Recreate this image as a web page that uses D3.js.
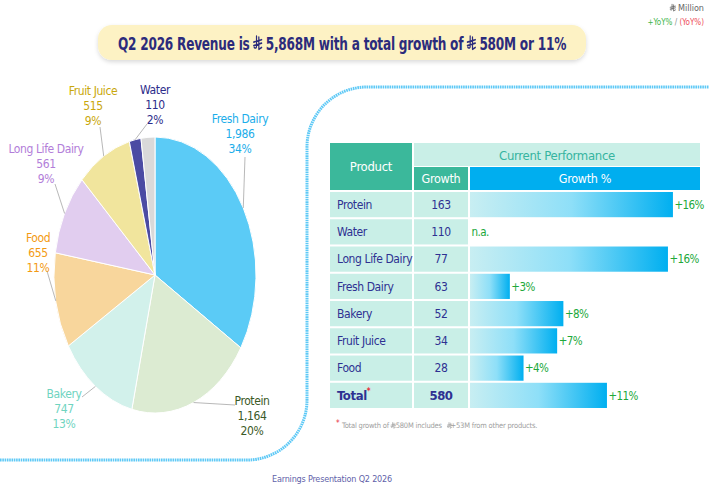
<!DOCTYPE html>
<html lang="en">
<head>
<meta charset="UTF-8">
<title>Q2 2026 Revenue</title>
<style>
  body { margin: 0; background: #fff; }
  svg { display: block; font-family: "DejaVu Sans Condensed", "Roboto", sans-serif; }
</style>
</head>
<body>
<script src="https://cdn.jsdelivr.net/npm/d3@7/dist/d3.min.js"></script>
<script>
// ---- data ----
var SAR = "\u20C1";
var titleText = "Q2 2026 Revenue is " + SAR + " 5,868M with a total growth of " + SAR + " 580M or 11%";

var pieProducts = ["Fresh Dairy", "Protein", "Bakery", "Food", "Long Life Dairy", "Fruit Juice", "Water", "Other"];
var pieRevenue = [1986, 1164, 747, 655, 561, 515, 110, 130];
var pieShareLabels = ["34%", "20%", "13%", "11%", "9%", "9%", "2%", ""];

var tableProducts = ["Protein", "Water", "Long Life Dairy", "Fresh Dairy", "Bakery", "Fruit Juice", "Food", "Total"];
var tableGrowth = [163, 110, 77, 63, 52, 34, 28, 580];
var tableGrowthPct = [16.3, null, 15.9, 3.2, 7.5, 7.0, 4.3, 11.0];
var tableGrowthLabels = ["+16%", "n.a.", "+16%", "+3%", "+8%", "+7%", "+4%", "+11%"];

// ---- styles / layout ----
var sliceColors = ["#5bcbf6", "#dcebd2", "#d2f1eb", "#f8d69c", "#e1cdef", "#f1e59d", "#4b4ba3", "#d9d9d9"];
var labelColors = ["#1badea", "#3b5a27", "#6fd4bf", "#f39a12", "#b27dd9", "#c9a70c", "#2c2c8a", "#999"];
// label text centre (x, first line y) and leader start
var labelLayout = [
  { x: 240, y: 118, lx: 245, ly: 157 },
  { x: 252, y: 400, lx: 235, ly: 405 },
  { x: 64,  y: 393, lx: 82,  ly: 397 },
  { x: 38,  y: 237, lx: 47,  ly: 271 },
  { x: 46,  y: 148, lx: 55,  ly: 184 },
  { x: 93,  y: 90,  lx: 100, ly: 127 },
  { x: 155, y: 89,  lx: 147, ly: 124 },
  null
];

var W = 709, H = 501;
var svg = d3.select("body").append("svg").attr("width", W).attr("height", H);
var defs = svg.append("defs");

var grad = defs.append("linearGradient").attr("id", "barGrad");
grad.append("stop").attr("offset", "0%").attr("stop-color", "#c8eef2");
grad.append("stop").attr("offset", "50%").attr("stop-color", "#8edff8");
grad.append("stop").attr("offset", "100%").attr("stop-color", "#00aff0");

var shadow = defs.append("filter").attr("id", "shadow").attr("x", "-5%").attr("y", "-30%").attr("width", "110%").attr("height", "170%");
shadow.append("feDropShadow").attr("dx", 0).attr("dy", 2).attr("stdDeviation", 2).attr("flood-color", "#000").attr("flood-opacity", 0.15);

// the riyal sign has no proper glyph in the installed fonts: keep the character
// in the text (invisible) and draw the sign over its box
function riyalSigns(textNode, color) {
  var node = textNode.node(), str = node.textContent;
  var parent = d3.select(node.parentNode);
  var fs = parseFloat(textNode.attr("font-size"));
  for (var i = 0; i < str.length; i++) {
    if (str[i] !== SAR) continue;
    var b = node.getExtentOfChar(i);
    var h = fs * 0.72, w = h * 0.85;
    var x0 = b.x + (b.width - w) / 2, y0 = b.y + b.height * 0.78 - h;
    var sx = function(v) { return x0 + v * w; }, sy = function(v) { return y0 + v * h; };
    var p = d3.path();
    p.moveTo(sx(0.36), sy(0.0)); p.lineTo(sx(0.36), sy(0.78)); p.quadraticCurveTo(sx(0.36), sy(0.98), sx(0.08), sy(0.86));
    p.moveTo(sx(0.64), sy(0.08)); p.lineTo(sx(0.64), sy(1.0));
    p.moveTo(sx(0.02), sy(0.46)); p.lineTo(sx(0.98), sy(0.28));
    p.moveTo(sx(0.02), sy(0.72)); p.lineTo(sx(0.98), sy(0.54));
    p.moveTo(sx(0.70), sy(0.98)); p.lineTo(sx(0.98), sy(0.86));
    parent.append("path").attr("d", p.toString()).attr("fill", "none")
      .attr("stroke", color).attr("stroke-width", Math.max(0.7, fs * 0.09)).attr("stroke-linecap", "round");
  }
}
function addSarText(sel, str, color) {
  str.split(SAR).forEach(function(part, k) {
    if (k > 0) sel.append("tspan").attr("fill-opacity", 0).text(SAR);
    sel.append("tspan").attr("fill", color).text(part);
  });
  return sel;
}

// divider
svg.append("path")
  .attr("d", "M0,460 H247 A60,60 0 0 0 307,400 V147 A60,60 0 0 1 367,87 H709")
  .attr("fill", "none")
  .attr("stroke", "#5ec9f6")
  .attr("stroke-width", 3)
  .attr("stroke-dasharray", "1.6 0.7");

// title (condensed to the width of the banner text)
svg.append("rect")
  .attr("x", 98).attr("y", 25).attr("width", 488).attr("height", 35).attr("rx", 14)
  .attr("fill", "#fdf2c4").attr("filter", "url(#shadow)");
var titleG = svg.append("g");
var title = titleG.append("text")
  .attr("x", 0).attr("y", 0)
  .attr("text-anchor", "middle")
  .attr("font-size", 18.5).attr("font-weight", "bold")
  .attr("letter-spacing", -0.3);
addSarText(title, titleText, "#2b2b7c");
var titleLen = title.node().getComputedTextLength();
titleG.attr("transform", "translate(342,49.5) scale(" + (448 / titleLen) + ",1)");
riyalSigns(title, "#2b2b7c");

// unit legend
var unit = svg.append("text").attr("x", 704).attr("y", 11).attr("text-anchor", "end").attr("font-size", 9);
addSarText(unit, SAR + " Million", "#666");
riyalSigns(unit, "#666");
var yoy = svg.append("text").attr("x", 704).attr("y", 25).attr("text-anchor", "end").attr("font-size", 8);
yoy.append("tspan").attr("fill", "#3db54a").text("+YoY%");
yoy.append("tspan").attr("fill", "#888").text(" / ");
yoy.append("tspan").attr("fill", "#ee4d5a").text("(YoY%)");

// ---- pie ----
var cx = 155, cy = 275, rx = 101, ry = 138;
var pie = d3.pie().sort(null).value(function(d) { return d; });
var arcs = pie(pieRevenue);
var arc = d3.arc().innerRadius(0).outerRadius(100);

svg.append("g")
  .attr("transform", "translate(" + cx + "," + cy + ") scale(" + (rx / 100) + "," + (ry / 100) + ")")
  .selectAll("path")
  .data(arcs)
  .enter().append("path")
  .attr("d", arc)
  .attr("fill", function(d, i) { return sliceColors[i]; })
  .attr("stroke", "#fff")
  .attr("stroke-width", 1)
  .attr("vector-effect", "non-scaling-stroke");

arcs.forEach(function(a, i) {
  var L = labelLayout[i];
  if (!L) return;
  var mid = (a.startAngle + a.endAngle) / 2;
  var ex = cx + Math.sin(mid) * rx, ey = cy - Math.cos(mid) * ry;
  svg.append("line")
    .attr("x1", L.lx).attr("y1", L.ly).attr("x2", ex).attr("y2", ey)
    .attr("stroke", "#a6a6a6").attr("stroke-width", 0.8);
  var t = svg.append("text")
    .attr("text-anchor", "middle")
    .attr("font-size", 12)
    .attr("letter-spacing", -0.4)
    .attr("fill", labelColors[i]);
  [pieProducts[i], d3.format(",")(pieRevenue[i]), pieShareLabels[i]].forEach(function(s, k) {
    t.append("tspan").attr("x", L.x).attr("y", L.y + 4.5 + k * 15.3).text(s);
  });
});

// ---- table ----
var colProduct = [330, 412], colGrowth = [414, 468], colPct = [470, 700];
var rows = d3.scaleBand().domain(tableProducts).range([192, 408]).paddingInner(0.075);
var xBar = d3.scaleLinear().domain([0, 20]).range([colPct[0], colPct[0] + 249]);

var hdr = svg.append("g");
hdr.append("rect").attr("x", colProduct[0]).attr("y", 143).attr("width", colProduct[1] - colProduct[0]).attr("height", 47).attr("fill", "#3bb89b");
hdr.append("rect").attr("x", colGrowth[0]).attr("y", 143).attr("width", colPct[1] - colGrowth[0]).attr("height", 23).attr("fill", "#c9efe7");
hdr.append("rect").attr("x", colGrowth[0]).attr("y", 167).attr("width", colGrowth[1] - colGrowth[0]).attr("height", 23).attr("fill", "#3bb89b");
hdr.append("rect").attr("x", colPct[0]).attr("y", 167).attr("width", colPct[1] - colPct[0]).attr("height", 23).attr("fill", "#00aeef");
hdr.append("text").attr("x", (colProduct[0] + colProduct[1]) / 2).attr("y", 171).attr("text-anchor", "middle")
  .attr("font-size", 13).attr("letter-spacing", -0.3).attr("fill", "#fff").text("Product");
hdr.append("text").attr("x", (colGrowth[0] + colPct[1]) / 2).attr("y", 159.5).attr("text-anchor", "middle")
  .attr("font-size", 13).attr("letter-spacing", -0.3).attr("fill", "#36b4a0").text("Current Performance");
hdr.append("text").attr("x", (colGrowth[0] + colGrowth[1]) / 2).attr("y", 183).attr("text-anchor", "middle")
  .attr("font-size", 12.5).attr("letter-spacing", -0.3).attr("fill", "#fff").text("Growth");
hdr.append("text").attr("x", (colPct[0] + colPct[1]) / 2).attr("y", 183).attr("text-anchor", "middle")
  .attr("font-size", 12.5).attr("letter-spacing", -0.3).attr("fill", "#fff").text("Growth %");

var row = svg.append("g").selectAll("g")
  .data(tableProducts)
  .enter().append("g")
  .attr("transform", function(d) { return "translate(0," + rows(d) + ")"; });

var bh = rows.bandwidth();
row.append("rect").attr("x", colProduct[0]).attr("width", colProduct[1] - colProduct[0]).attr("height", bh).attr("fill", "#c9efe7");
row.append("rect").attr("x", colGrowth[0]).attr("width", colGrowth[1] - colGrowth[0]).attr("height", bh).attr("fill", "#c9efe7");

row.filter(function(d, i) { return tableGrowthPct[i] != null; })
  .append("rect")
  .attr("x", colPct[0])
  .attr("width", function(d) { var i = tableProducts.indexOf(d); return xBar(tableGrowthPct[i]) - colPct[0]; })
  .attr("height", bh)
  .attr("fill", "url(#barGrad)");

var isTotal = function(d) { return d === "Total"; };
var nameText = row.append("text")
  .attr("x", 337).attr("y", bh / 2 + 4.3)
  .attr("font-size", function(d) { return isTotal(d) ? 13 : 12; })
  .attr("font-weight", function(d) { return isTotal(d) ? "bold" : "normal"; })
  .attr("letter-spacing", -0.4)
  .attr("fill", "#2e3192");
nameText.append("tspan").text(function(d) { return d; });
nameText.filter(isTotal).append("tspan").attr("dy", -6).attr("font-size", 8).attr("fill", "#e8313c").text("*");

row.append("text")
  .attr("x", (colGrowth[0] + colGrowth[1]) / 2).attr("y", bh / 2 + 4.3)
  .attr("text-anchor", "middle")
  .attr("font-size", function(d) { return isTotal(d) ? 13 : 12; })
  .attr("font-weight", function(d) { return isTotal(d) ? "bold" : "normal"; })
  .attr("letter-spacing", -0.4)
  .attr("fill", "#2e3192")
  .text(function(d, i) { return d3.format(",")(tableGrowth[i]); });

row.append("text")
  .attr("x", function(d, i) { return (tableGrowthPct[i] == null ? colPct[0] : xBar(tableGrowthPct[i])) + 1.5; })
  .attr("y", bh / 2 + 4.3)
  .attr("font-size", 11.5)
  .attr("letter-spacing", -0.6)
  .attr("fill", "#21a83a")
  .text(function(d, i) { return tableGrowthLabels[i]; });

// footnote
svg.append("text").attr("x", 336).attr("y", 426).attr("font-size", 8).attr("fill", "#e8313c").text("*");
var fn = svg.append("text").attr("x", 342).attr("y", 428).attr("font-size", 7.5).attr("letter-spacing", -0.2);
addSarText(fn, "Total growth of " + SAR + "580M includes  " + SAR + " +53M from other products.", "#a0a0a0");
riyalSigns(fn, "#a0a0a0");

// footer
svg.append("text").attr("x", 332).attr("y", 482).attr("text-anchor", "middle")
  .attr("font-size", 9).attr("letter-spacing", -0.2).attr("fill", "#5f5fa9").text("Earnings Presentation Q2 2026");
</script>
</body>
</html>
